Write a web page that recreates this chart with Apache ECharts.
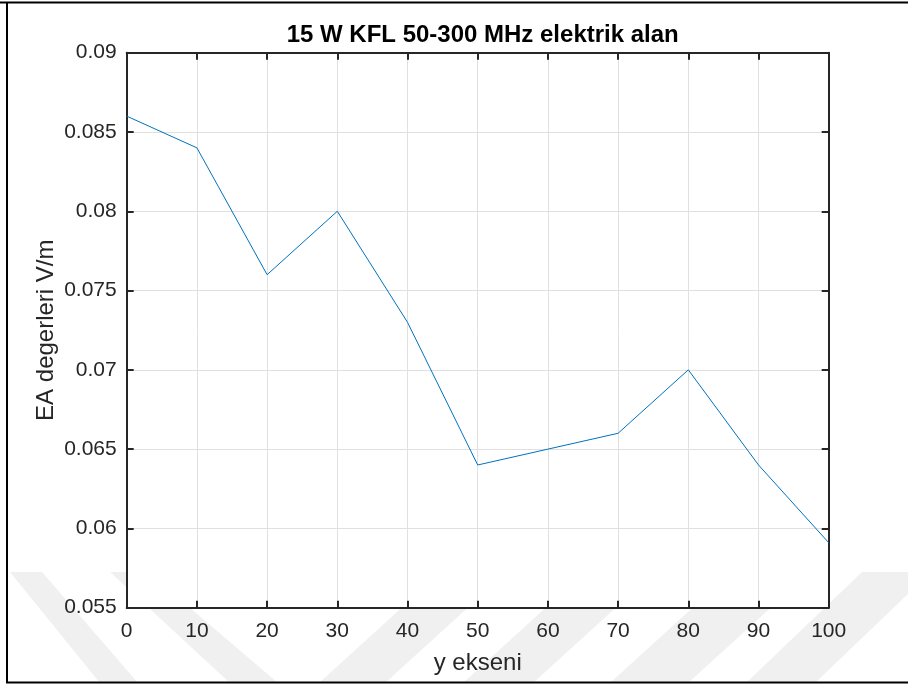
<!DOCTYPE html>
<html>
<head>
<meta charset="utf-8">
<script src="https://cdn.jsdelivr.net/npm/echarts@6/dist/echarts.min.js"></script>
<style>
html,body{margin:0;padding:0;background:#fff;}
#chart{width:908px;height:686px;}
</style>
</head>
<body>
<div id="chart"></div>
<script>
// ---- data ----
const titleText = '15 W KFL 50-300 MHz elektrik alan';
const xName = 'y ekseni';
const yName = 'EA degerleri V/m';
const xValues = [0, 10, 20, 30, 40, 50, 60, 70, 80, 90, 100];
const yValues = [0.086, 0.084, 0.076, 0.080, 0.073, 0.064, 0.065, 0.066, 0.070, 0.064, 0.0591];
const xTickLabels = ['0','10','20','30','40','50','60','70','80','90','100'];
const yTickLabels = ['0.055','0.06','0.065','0.07','0.075','0.08','0.085','0.09'];

const X_MIN = 0, X_MAX = 100, X_INT = 10;
const Y_MIN = 0.055, Y_MAX = 0.09, Y_INT = 0.005;

const FONT = '"Liberation Sans", Arial, Helvetica, sans-serif';
const AX = '#262626';

const chart = echarts.init(document.getElementById('chart'), null, {renderer: 'canvas'});

const seriesData = xValues.map((x, i) => [x, yValues[i]]);

function xFmt(v) {
  const i = Math.round((v - X_MIN) / X_INT);
  return xTickLabels[i] !== undefined ? xTickLabels[i] : '';
}
function yFmt(v) {
  const i = Math.round((v - Y_MIN) / Y_INT);
  return yTickLabels[i] !== undefined ? yTickLabels[i] : '';
}

const wmColor = '#f0f0f0';
function band(pts) {
  return {type: 'polygon', z: -10, silent: true, shape: {points: pts}, style: {fill: wmColor}};
}

const option = {
  animation: false,
  backgroundColor: '#fff',
  title: {
    text: titleText,
    left: 477.7,
    top: 18,
    textAlign: 'center',
    textStyle: {fontFamily: FONT, fontSize: 24, fontWeight: 'bold', color: '#000', lineHeight: 24}
  },
  grid: {
    left: 126.7, top: 52.7, right: 908 - 828.7, bottom: 686 - 607.7,
    show: true, backgroundColor: '#fff', borderWidth: 0, z: 0
  },
  graphic: [
    band([[10,572],[42,572],[138,683],[100,683]]),
    band([[110,572],[148,572],[278,683],[230,683]]),
    band([[441,572],[507,572],[385,683],[319,683]]),
    band([[585,572],[655,572],[533,683],[463,683]]),
    band([[732,572],[810,572],[688,683],[610,683]]),
    band([[862,572],[931,572],[815,683],[746,683]]),
    {type: 'line', silent: true, z: 100, shape: {x1: 0, y1: 2.5, x2: 908, y2: 2.5}, style: {stroke: '#000', lineWidth: 2}},
    {type: 'line', silent: true, z: 100, shape: {x1: 7, y1: 2, x2: 7, y2: 683}, style: {stroke: '#000', lineWidth: 2}},
    {type: 'line', silent: true, z: 100, shape: {x1: 6, y1: 682.5, x2: 908, y2: 682.5}, style: {stroke: '#000', lineWidth: 2}}
  ],
  xAxis: [
    {
      type: 'value', min: X_MIN, max: X_MAX, interval: X_INT, position: 'bottom', z: 3,
      name: xName, nameLocation: 'middle', nameGap: 44, nameMoveOverlap: false,
      nameTextStyle: {fontFamily: FONT, fontSize: 24, color: AX, lineHeight: 24},
      axisLine: {show: true, onZero: false, lineStyle: {color: AX, width: 2}},
      axisTick: {show: true, inside: true, length: 7, lineStyle: {color: AX, width: 2}},
      axisLabel: {show: true, margin: 13, formatter: xFmt, fontFamily: FONT, fontSize: 21, color: AX},
      splitLine: {show: true, lineStyle: {color: '#e0e0e0', width: 1}}
    },
    {
      type: 'value', min: X_MIN, max: X_MAX, interval: X_INT, position: 'top', z: 3,
      axisLine: {show: true, onZero: false, lineStyle: {color: AX, width: 2}},
      axisTick: {show: true, inside: true, length: 7, lineStyle: {color: AX, width: 2}},
      axisLabel: {show: false},
      splitLine: {show: false}
    }
  ],
  yAxis: [
    {
      type: 'value', min: Y_MIN, max: Y_MAX, interval: Y_INT, position: 'left', z: 3,
      name: yName, nameLocation: 'middle', nameGap: 68, nameMoveOverlap: false,
      nameTextStyle: {fontFamily: FONT, fontSize: 24, color: AX, lineHeight: 24},
      axisLine: {show: true, onZero: false, lineStyle: {color: AX, width: 2}},
      axisTick: {show: true, inside: true, length: 7, lineStyle: {color: AX, width: 2}},
      axisLabel: {show: true, margin: 10, formatter: yFmt, fontFamily: FONT, fontSize: 21, color: AX},
      splitLine: {show: true, lineStyle: {color: '#e0e0e0', width: 1}}
    },
    {
      type: 'value', min: Y_MIN, max: Y_MAX, interval: Y_INT, position: 'right', z: 3,
      axisLine: {show: true, onZero: false, lineStyle: {color: AX, width: 2}},
      axisTick: {show: true, inside: true, length: 7, lineStyle: {color: AX, width: 2}},
      axisLabel: {show: false},
      splitLine: {show: false}
    }
  ],
  series: [
    {
      type: 'line', xAxisIndex: 0, yAxisIndex: 0,
      data: seriesData, showSymbol: false, symbol: 'none',
      lineStyle: {color: '#0072BD', width: 1}, z: 5
    }
  ]
};
chart.setOption(option);
</script>
</body>
</html>
